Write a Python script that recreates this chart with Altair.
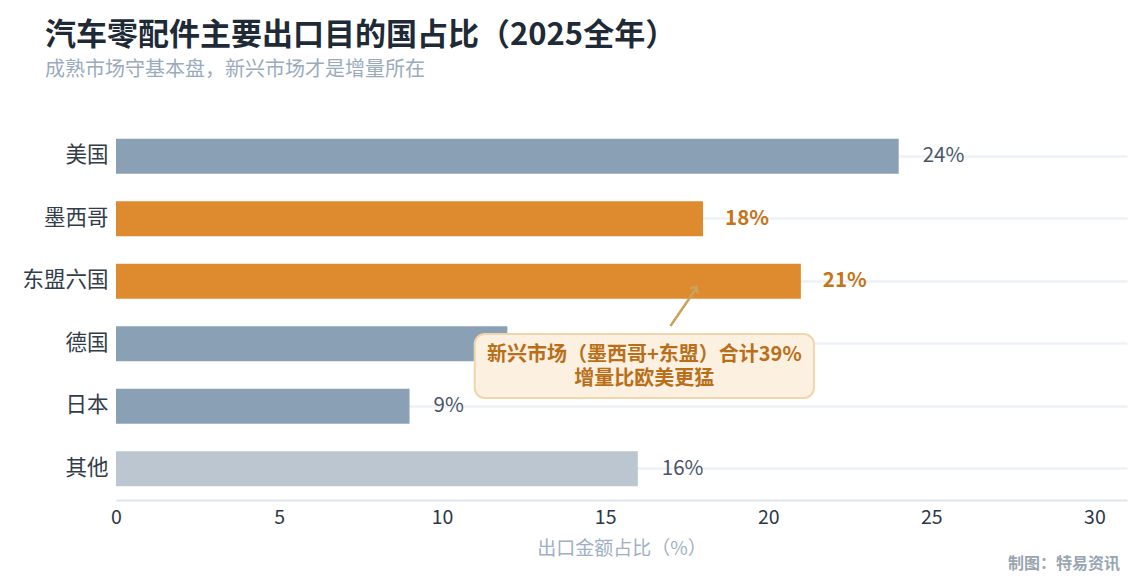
import altair as alt
import pandas as pd

# ---- data ----
countries = ["美国", "墨西哥", "东盟六国", "德国", "日本", "其他"]
shares = [24, 18, 21, 12, 9, 16]
groups = ["成熟市场", "新兴市场", "新兴市场", "成熟市场", "成熟市场", "其他"]
x_ticks = [0, 5, 10, 15, 20, 25, 30]

note_lines = ["新兴市场（墨西哥+东盟）合计39%", "增量比欧美更猛"]
title_text = "汽车零配件主要出口目的国占比（2025全年）"
subtitle_text = "成熟市场守基本盘，新兴市场才是增量所在"
x_title = "出口金额占比（%）"
source_text = "制图：特易资讯"

df = pd.DataFrame({"country": countries, "share": shares, "group": groups})
df["label"] = [f"{v}%" for v in shares]

FONT = "Noto Sans CJK SC"
W, H = 1011, 375

x_scale = alt.Scale(domain=[0, 31], nice=False, zero=True)
y_scale = alt.Scale(domain=countries, paddingInner=0.44, paddingOuter=0.22)

x_enc = alt.X(
    "share:Q",
    scale=x_scale,
    axis=alt.Axis(
        values=x_ticks,
        title=x_title,
        grid=False,
        ticks=False,
        labelFlush=False,
        domainColor="#dfe5ec",
        domainWidth=2,
        labelColor="#2d3748",
        labelFontSize=19.5,
        labelFont=FONT,
        labelPadding=8,
        titleColor="#9fb0c2",
        titleFontSize=19,
        titleFont=FONT,
        titleFontWeight="normal",
        titlePadding=13,
    ),
)
y_enc = alt.Y(
    "country:N",
    scale=y_scale,
    sort=countries,
    axis=alt.Axis(
        title=None,
        ticks=False,
        domain=False,
        grid=True,
        gridColor="#eef2f6",
        gridWidth=2.5,
        bandPosition=0.5,
        labelColor="#333d4a",
        labelFontSize=21.5,
        labelFont=FONT,
        labelPadding=8,
    ),
)

base = alt.Chart(df)

bars = base.mark_bar().encode(
    x=x_enc,
    y=y_enc,
    color=alt.Color(
        "group:N",
        scale=alt.Scale(
            domain=["成熟市场", "新兴市场", "其他"],
            range=["#8aa0b4", "#de8a2f", "#bbc6d1"],
        ),
        legend=None,
    ),
)

labels_plain = base.transform_filter(
    alt.datum.group != "新兴市场"
).mark_text(
    align="left", baseline="middle", dx=24, fontSize=20.5, font=FONT, color="#4a5568"
).encode(x="share:Q", y=alt.Y("country:N", sort=countries), text="label:N")

labels_bold = base.transform_filter(
    alt.datum.group == "新兴市场"
).mark_text(
    align="left", baseline="middle", dx=22, fontSize=20.5, font=FONT,
    fontWeight="bold", color="#c47518"
).encode(x="share:Q", y=alt.Y("country:N", sort=countries), text="label:N")

note_df = pd.DataFrame({"a": [0]})
note_base = alt.Chart(note_df)

note_box = note_base.mark_rect(
    fill="#fcf0e0", stroke="#f0d6ad", strokeWidth=2, cornerRadius=10
).encode(
    x=alt.datum(11.0),
    x2=alt.datum(21.4),
    y=alt.value(209),
    y2=alt.value(273),
)

note_text = note_base.mark_text(
    text=note_lines, align="center", baseline="middle", lineHeight=24,
    fontSize=20, fontWeight="bold", font=FONT, color="#b96f1a"
).encode(x=alt.datum(16.2), y=alt.value(230))

arrow_line = note_base.mark_rule(color="#c9a35a", strokeWidth=2.5).encode(
    x=alt.datum(17.0), x2=alt.datum(17.8), y=alt.value(201), y2=alt.value(163)
)
arrow_head = note_base.mark_point(
    shape="M-1,1L0,0L1,1", filled=False, strokeWidth=2.5, color="#c9a35a",
    angle=35, size=90, opacity=1
).encode(x=alt.datum(17.8), y=alt.value(162))

source = note_base.mark_text(
    text=source_text, align="right", baseline="middle", fontSize=16,
    fontWeight="bold", font=FONT, color="#9aa5b1"
).encode(x=alt.value(1004), y=alt.value(439))

chart = alt.layer(
    bars, labels_plain, labels_bold, note_box, note_text, arrow_line, arrow_head, source
).properties(
    width=W,
    height=H,
    background="white",
    title=alt.TitleParams(
        text=title_text,
        subtitle=subtitle_text,
        anchor="start",
        frame="group",
        dx=-71,
        offset=44,
        font=FONT,
        fontSize=31,
        fontWeight="bold",
        color="#1f2a37",
        subtitleFont=FONT,
        subtitleFontSize=20,
        subtitleColor="#9aabbd",
        subtitlePadding=8,
    ),
    autosize=alt.AutoSizeParams(type="none"),
    padding={"left": 108, "top": 117, "right": 6, "bottom": 78},
).configure_view(strokeWidth=0, stroke=None)

chart.save("out.html", embed_options={"renderer": "svg", "actions": False})
